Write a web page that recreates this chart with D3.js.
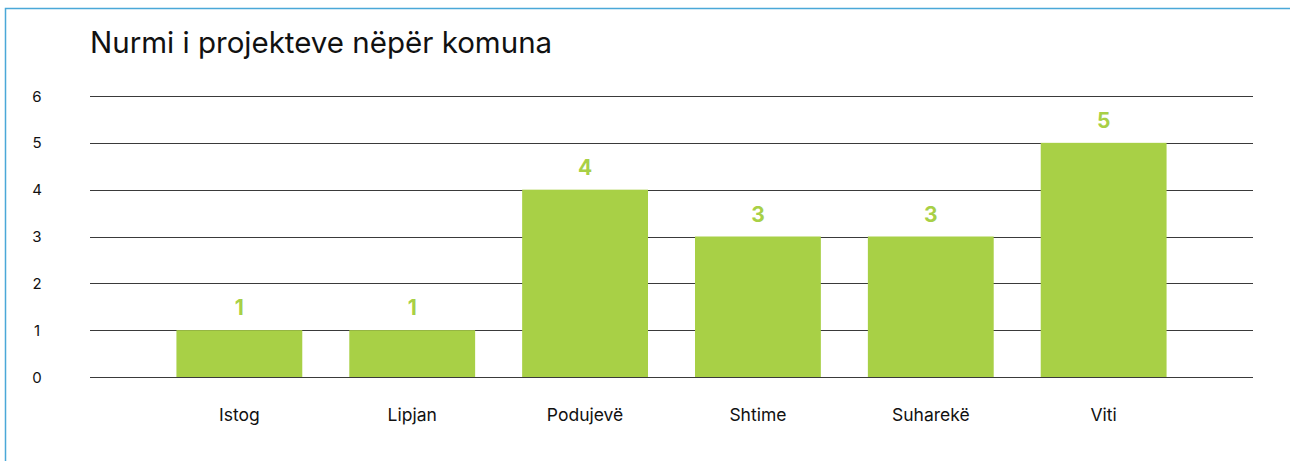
<!DOCTYPE html>
<meta charset="utf-8">
<head>
    <title>Nurmi i projekteve</title>
    <script type="text/javascript" src="https://cdn.jsdelivr.net/npm/d3@7"></script>
    <style>
        body { margin: 0; background: #fff; }
        text { font-family: Inter, "Noto Sans", sans-serif; }
    </style>
</head>
<body>
<script>
    // data
    var komunat = ["Istog", "Lipjan", "Podujevë", "Shtime", "Suharekë", "Viti"];
    var projektet = [1, 1, 4, 3, 3, 5];
    var yTicks = [0, 1, 2, 3, 4, 5, 6];

    var width = 1290, height = 461;
    var plot = {left: 90, right: 1253, top: 96, bottom: 377};

    var svg = d3.select('body').append('svg')
        .attr('width', width)
        .attr('height', height);

    // frame
    svg.append('path')
        .attr('d', 'M5.5,' + height + ' V8.5 H' + width)
        .attr('fill', 'none')
        .attr('stroke', '#4aa8d8')
        .attr('stroke-width', 1.5);

    var x = d3.scaleBand()
        .domain(komunat)
        .range([plot.left, plot.right])
        .paddingInner(0.272)
        .paddingOuter(0.5);

    var y = d3.scaleLinear()
        .domain([0, 6])
        .range([plot.bottom, plot.top]);

    // grid
    svg.append('g').selectAll('line')
        .data(yTicks)
        .enter()
        .append('line')
        .attr('x1', plot.left)
        .attr('x2', plot.right)
        .attr('y1', function(d){ return Math.round(y(d)) + 0.5; })
        .attr('y2', function(d){ return Math.round(y(d)) + 0.5; })
        .attr('stroke', '#3a3a3a')
        .attr('stroke-width', 1);

    svg.append('g').selectAll('text')
        .data(yTicks)
        .enter()
        .append('text')
        .attr('x', 37)
        .attr('y', function(d){ return y(d) + 5.5; })
        .attr('text-anchor', 'middle')
        .attr('font-size', 15)
        .attr('fill', '#111')
        .text(function(d){ return d; });

    // bars
    svg.append('g').selectAll('rect')
        .data(projektet)
        .enter()
        .append('rect')
        .attr('x', function(d,i){ return x(komunat[i]); })
        .attr('y', function(d){ return y(d); })
        .attr('width', x.bandwidth())
        .attr('height', function(d){ return y(0) - y(d); })
        .attr('fill', '#a8d046');

    // value labels
    svg.append('g').selectAll('text')
        .data(projektet)
        .enter()
        .append('text')
        .attr('x', function(d,i){ return x(komunat[i]) + x.bandwidth()/2; })
        .attr('y', function(d){ return y(d) - 15; })
        .attr('text-anchor', 'middle')
        .attr('font-size', 21)
        .attr('font-weight', 'bold')
        .attr('fill', '#a8d046')
        .text(function(d){ return d; });

    // category labels
    svg.append('g').selectAll('text')
        .data(komunat)
        .enter()
        .append('text')
        .attr('x', function(d){ return x(d) + x.bandwidth()/2; })
        .attr('y', 421)
        .attr('text-anchor', 'middle')
        .attr('font-size', 17.5)
        .attr('fill', '#111')
        .text(function(d){ return d; });

    // title
    svg.append('text')
        .attr('x', 90)
        .attr('y', 53)
        .attr('font-size', 29.5)
        .attr('fill', '#111')
        .text('Nurmi i projekteve nëpër komuna');
</script>
</body>
</html>
